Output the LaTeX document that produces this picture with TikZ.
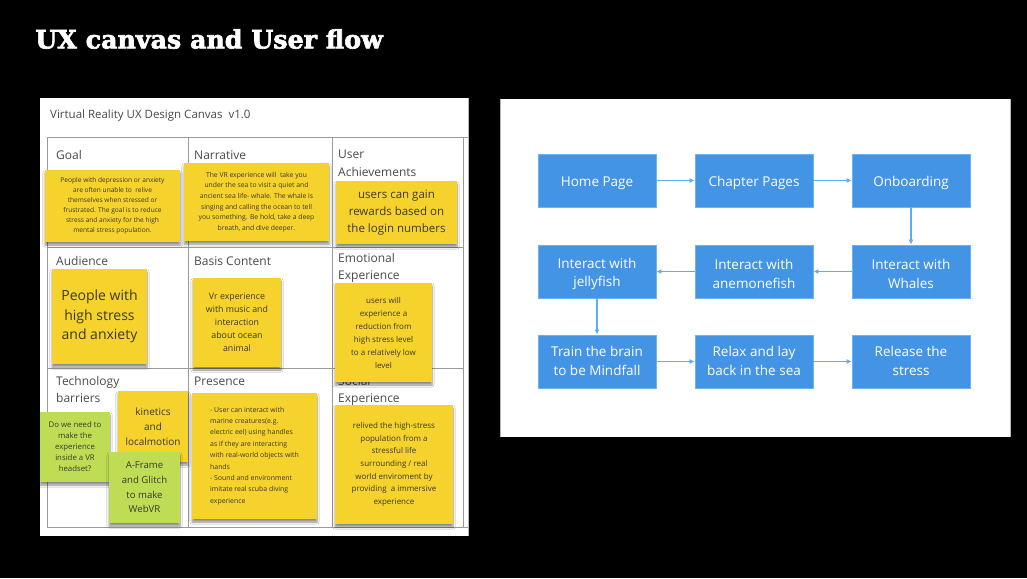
\documentclass[tikz,border=0pt]{standalone}
\usepackage{fontspec}
\setmainfont{Open Sans}
\newfontfamily\titlefont{DejaVu Serif}[BoldFeatures={FakeBold=2.5}]
\usetikzlibrary{arrows.meta,shadows.blur}
\definecolor{noteyellow}{HTML}{F5D22C}
\definecolor{notegreen}{HTML}{BEDD55}
\definecolor{notetext}{HTML}{3C3A2A}
\definecolor{gridgray}{HTML}{9A9A9A}
\definecolor{labelgray}{HTML}{4A4A4A}
\definecolor{flowblue}{HTML}{4494E6}
\definecolor{flowedge}{HTML}{6DB3F2}
\definecolor{arrowblue}{HTML}{5AAEF2}
\begin{document}
\begin{tikzpicture}[x=1pt,y=-1pt,
  sticky/.style={fill=noteyellow, inner sep=0pt, outer sep=0pt, align=center,
    text=notetext, anchor=north west,
    blur shadow={shadow xshift=0pt, shadow yshift=-3pt, shadow opacity=45, shadow blur steps=6}},
  greensticky/.style={sticky, fill=notegreen},
  celllabel/.style={anchor=west, inner sep=0pt, align=left, text=labelgray,
    font=\fontsize{12}{17.5}\selectfont},
  gridline/.style={draw=gridgray, line width=0.9pt},
  flowbox/.style={fill=flowblue, draw=flowedge, line width=0.8pt,
    minimum width=118pt, minimum height=53pt, inner sep=0pt},
  flowtextbase/.style={text=white, align=center, inner sep=0pt,
    font=\fontsize{13.5}{18.7}\selectfont},
  flowtext/.style={flowtextbase, yshift=-2.5pt},
  flowtextlow/.style={flowtextbase, yshift=0.8pt},
  flowarrow/.style={draw=arrowblue, line width=1.4pt,
    -{Latex[length=5pt,width=5pt]}}
  ]
\useasboundingbox (0,0) rectangle (1027,578);
\fill[black] (0,0) rectangle (1027,578);

% title
\node[anchor=west, inner sep=0pt, text=white,
  font=\titlefont\bfseries\fontsize{25.3}{28}\selectfont] (title) at (35,39) {UX canvas and User flow};

% ---------- left panel ----------
\fill[white] (40,98) rectangle (468,536);
\draw[gridgray!70, line width=0.6pt] (468,98) -- (468,536);
\node[anchor=west, inner sep=0pt, text=labelgray,
  font=\fontsize{11.5}{14}\selectfont] (canvastitle) at (50,116) {Virtual Reality UX Design Canvas\ \ v1.0};

\coordinate (g1) at (47,137);
\coordinate (g2) at (468,137);
\coordinate (g3) at (47,527);
\coordinate (g4) at (468,527);
\draw[gridline] (g1) -- (g2);
\draw[gridline] (g3) -- (g4);
\draw[gridline] (47,137) -- (47,527);
\draw[gridline] (188,137) -- (188,527);
\draw[gridline] (332,137) -- (332,527);
\draw[gridline] (463,137) -- (463,527);
\draw[gridline] (47,247) -- (463,247);
\draw[gridline] (47,368) -- (463,368);

% cell labels
\node[celllabel] (lgoal) at (56,155) {Goal};
\node[celllabel] (lnarr) at (194,155) {Narrative};
\node[celllabel] (lach) at (338,163.5) {User\\Achievements};
\node[celllabel] (laud) at (56,261) {Audience};
\node[celllabel] (lbasis) at (194,261) {Basis Content};
\node[celllabel] (lemo) at (338,268) {Emotional\\Experience};
\node[celllabel] (ltech) at (56,389.5) {Technology\\barriers};
\node[celllabel] (lpres) at (194,381) {Presence};
\node[celllabel] (lsoc) at (338,391) {Social\\Experience};

% sticky notes
\node[sticky, minimum width=135pt, minimum height=72pt,
  font=\fontsize{6.6}{10}\selectfont] (ngoal) at (45,170)
  {People with depression or anxiety\\are often unable to\ \ relive\\themselves when stressed or\\frustrated. The goal is to reduce\\stress and anxiety for the high\\mental stress population.};
\node[sticky, minimum width=145pt, minimum height=78pt,
  font=\fontsize{6.8}{10.7}\selectfont] (nnarr) at (184,163)
  {The VR experience will\ \ take you\\under the sea to visit a quiet and\\ancient sea life- whale. The whale is\\singing and calling the ocean to tell\\you something. Be hold, take a deep\\breath, and dive deeper.};
\node[sticky, minimum width=121pt, minimum height=63pt,
  font=\fontsize{11.5}{17}\selectfont] (nach) at (336,181)
  {users can gain\\rewards based on\\the login numbers};
\node[sticky, minimum width=95pt, minimum height=95pt,
  font=\fontsize{14}{19.5}\selectfont] (naud) at (52,269)
  {People with\\high stress\\and anxiety};
\node[sticky, minimum width=88pt, minimum height=89pt,
  font=\fontsize{8.8}{13}\selectfont] (nbasis) at (193,278)
  {Vr experience\\with music and\\interaction\\about ocean\\animal};
\node[sticky, minimum width=97pt, minimum height=99pt,
  font=\fontsize{8}{13}\selectfont] (nemo) at (335,283)
  {users will\\experience a\\reduction from\\high stress level\\to a relatively low\\level};
\node[sticky, minimum width=70pt, minimum height=71pt,
  font=\fontsize{10}{15}\selectfont] (nkin) at (118,391)
  {kinetics\\and\\localmotion};
\node[greensticky, minimum width=70pt, minimum height=70pt,
  font=\fontsize{7.8}{11}\selectfont] (nvr) at (40,412)
  {Do we need to\\make the\\experience\\inside a VR\\headset?};
\node[greensticky, minimum width=71pt, minimum height=71pt,
  font=\fontsize{9.6}{14.7}\selectfont] (nframe) at (109,452)
  {A-Frame\\and Glitch\\to make\\WebVR};
\node[sticky, minimum width=125pt, minimum height=126pt, align=left,
  font=\fontsize{6.9}{11.4}\selectfont] (npres) at (192,393)
  {- User can interact with\\marine creatures(e.g.\\electric eel) using handles\\as if they are interacting\\with real-world objects with\\hands\\- Sound and environment\\imitate real scuba diving\\experience};
\node[sticky, minimum width=118pt, minimum height=119pt,
  font=\fontsize{8}{12.7}\selectfont] (nsoc) at (335,405)
  {relived the high-stress\\population from a\\stressful life\\surrounding / real\\world enviroment by\\providing\ \ a immersive\\experience};

% ---------- right panel ----------
\fill[white] (500,99) rectangle (1010,437);
\draw[gridgray!70, line width=0.6pt] (500,99) -- (500,437);
\draw[gridgray!70, line width=0.6pt] (1010,99) -- (1010,437);

\node[flowbox, label={[flowtext]center:Home Page}] (home) at (597,180.5) {};
\node[flowbox, label={[flowtext]center:Chapter Pages}] (chapter) at (754,180.5) {};
\node[flowbox, label={[flowtext]center:Onboarding}] (onboard) at (911,180.5) {};
\node[flowbox, label={[flowtext]center:Interact with\\Whales}] (whales) at (911,271.5) {};
\node[flowbox, label={[flowtext]center:Interact with\\anemonefish}] (anemone) at (754,271.5) {};
\node[flowbox, label={[flowtext]center:Interact with\\jellyfish}] (jelly) at (597,271.5) {};
\node[flowbox, label={[flowtextlow]center:Train the brain\\to be Mindfall}] (train) at (597,361.5) {};
\node[flowbox, label={[flowtextlow]center:Relax and lay\\back in the sea}] (relax) at (754,361.5) {};
\node[flowbox, label={[flowtextlow]center:Release the\\stress}] (release) at (911,361.5) {};

\draw[flowarrow] (home) -- (chapter);
\draw[flowarrow] (chapter) -- (onboard);
\draw[flowarrow] (onboard) -- (whales);
\draw[flowarrow] (whales) -- (anemone);
\draw[flowarrow] (anemone) -- (jelly);
\draw[flowarrow] (jelly) -- (train);
\draw[flowarrow] (train) -- (relax);
\draw[flowarrow] (relax) -- (release);
\end{tikzpicture}
\end{document}
